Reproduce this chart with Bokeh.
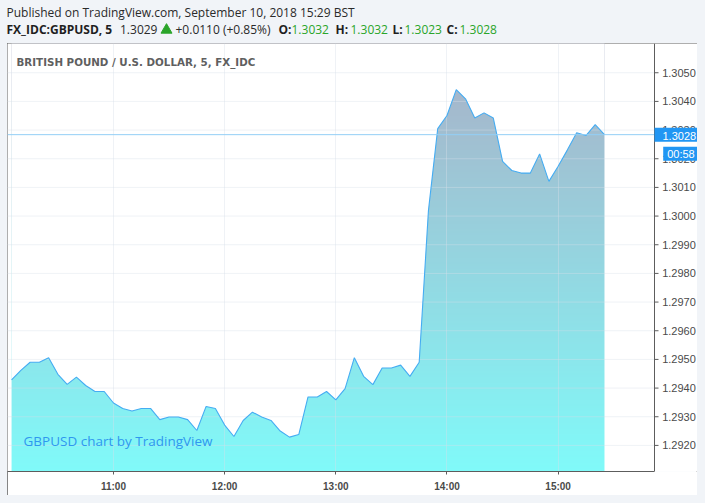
import numpy as np
import pandas as pd
from bokeh.plotting import figure
from bokeh.layouts import column, row
from bokeh.models import (Range1d, FixedTicker, DatetimeTickFormatter, Span, Label, Spacer,
                          GlobalInlineStyleSheet)
from bokeh.core.properties import value
from bokeh.embed import file_html
from bokeh.resources import INLINE

# ---------------- data ----------------
session_date = "2018-09-10"
first_bar = "10:05"
bar_minutes = 5
close = [
    1.29429, 1.29462, 1.29490, 1.29490, 1.29506, 1.29448, 1.29413, 1.29438, 1.29409, 1.29388,
    1.29388, 1.29348, 1.29329, 1.29320, 1.29329, 1.29329, 1.29290, 1.29299, 1.29299, 1.29290,
    1.29252, 1.29336, 1.29329, 1.29271, 1.29231, 1.29287, 1.29316, 1.29299, 1.29287, 1.29250,
    1.29229, 1.29238, 1.29369, 1.29369, 1.29388, 1.29359, 1.29398, 1.29506, 1.29441, 1.29412,
    1.29470, 1.29470, 1.29480, 1.29441, 1.29490, 1.30020, 1.30305, 1.30351, 1.30441, 1.30409,
    1.30342, 1.30360, 1.30342, 1.30191, 1.30159, 1.30150, 1.30150, 1.30217, 1.30121, 1.30174,
    1.30231, 1.30291, 1.30281, 1.30319, 1.30284,
]
hour_labels = ["11:00", "12:00", "13:00", "14:00", "15:00"]
price_labels = ["1.2920", "1.2930", "1.2940", "1.2950", "1.2960", "1.2970", "1.2980",
                "1.2990", "1.3000", "1.3010", "1.3020", "1.3030", "1.3040", "1.3050"]
published = "Published on TradingView.com, September 10, 2018 15:29 BST"
header_symbol = "FX_IDC:GBPUSD, 5"
header_last = "1.3029"
header_change = "+0.0110 (+0.85%)"
ohlc_keys = ["O:", "H:", "L:", "C:"]
ohlc_values = ["1.3032", "1.3032", "1.3023", "1.3028"]
chart_title = "BRITISH POUND / U.S. DOLLAR, 5, FX_IDC"
watermark = "GBPUSD chart by TradingView"
countdown = "00:58"

# ---------------- derived ----------------
times = pd.date_range(start=f"{session_date} {first_bar}", periods=len(close),
                      freq=f"{bar_minutes}min")
t_ms = np.asarray(times.astype("int64") // 10**6, dtype=float)
close_arr = np.asarray(close)
hour_ticks = [pd.Timestamp(f"{session_date} {h}").value // 10**6 for h in hour_labels]
price_ticks = [float(s) for s in price_labels]

# ---------------- layout constants ----------------
BG = "#f1f4f8"
DARK = "#5d5d5d"
HEAD_W, HEAD_H = 697, 43
LEFT_GAP = 7
CHART_W, CHART_H = 690, 452
BOTTOM = 24
PLOT_W = 647                      # pixels from frame left to the price-scale line
FONT = value("Open Sans")
AX_FONT = "Liberation Sans"

view_x0 = pd.Timestamp(f"{session_date} 10:02:48").value // 10**6
axis_x = pd.Timestamp(f"{session_date} 15:52:00").value // 10**6
view_x1 = view_x0 + (axis_x - view_x0) * CHART_W / PLOT_W
view_y0, view_y1 = 1.29109, 1.30602

# ---------------- header ----------------
head = figure(width=HEAD_W, height=HEAD_H, x_range=Range1d(0, HEAD_W),
              y_range=Range1d(HEAD_H, 0), output_backend="svg", toolbar_location=None,
              min_border=0, x_axis_location=None, y_axis_location=None,
              outline_line_color=None, background_fill_color=BG, border_fill_color=BG)
head.grid.visible = False

L1, L2 = 12, 29
head.text(x=[6], y=[L1], text=[published], text_font=FONT, text_font_size="12px",
          text_color="#2a2a2a", text_baseline="middle")
head.text(x=[6, 278, 335, 392, 446], y=[L2] * 5, text=[header_symbol] + ohlc_keys,
          text_font=FONT, text_font_size="12px", text_font_style="bold",
          text_color="#1f1f1f", text_baseline="middle")
head.text(x=[119.5, 175], y=[L2] * 2, text=[header_last, header_change], text_font=FONT,
          text_font_size="12px", text_color="#2a2a2a", text_baseline="middle")
head.text(x=[291, 350, 404, 459], y=[L2] * 4, text=ohlc_values, text_font=FONT,
          text_font_size="12px", text_color="#2aa52a", text_baseline="middle")
head.scatter(x=[166], y=[29.5], marker="triangle", size=11, fill_color="#2aa52a",
             line_color="#2aa52a")

# ---------------- chart ----------------
p = figure(width=CHART_W, height=CHART_H, x_axis_type="datetime", y_axis_location=None,
           x_range=Range1d(view_x0, view_x1), y_range=Range1d(view_y0, view_y1),
           output_backend="svg", toolbar_location=None,
           min_border_left=0, min_border_top=0, min_border_right=0, min_border_bottom=BOTTOM,
           background_fill_color="white", border_fill_color="white",
           outline_line_color=None)
p.styles = {"outline": f"1px solid {DARK}", "outline-offset": "-1px"}

# gradient fill under the line (image + white mask above the line)
rows, cols = 430, 600
frac = np.linspace(0.0, 1.0, rows)[:, None]
bot = np.array([128, 250, 249], dtype=float)
top = np.array([170, 175, 198], dtype=float)
img = np.empty((rows, cols), dtype=np.uint32)
v = img.view(dtype=np.uint8).reshape((rows, cols, 4))
for k in range(3):
    v[:, :, k] = np.round(bot[k] + (top[k] - bot[k]) * frac).astype(np.uint8)
v[:, :, 3] = 255
p.image_rgba(image=[img], x=t_ms[0], y=view_y0, dw=t_ms[-1] - t_ms[0],
             dh=view_y1 - view_y0, level="image")
p.varea(x=t_ms, y1=close_arr, y2=view_y1, fill_color="white", level="image")

# grid lines (drawn over the fill, faint)
GRID = "#d8dee8"
p.xgrid.grid_line_color = GRID
p.xgrid.grid_line_alpha = 0.4
p.ygrid.visible = False
p.ray(x=[axis_x] * len(price_ticks), y=price_ticks, length=0, angle=np.pi,
      line_color=GRID, line_alpha=0.4, level="underlay")

p.line(t_ms, close_arr, line_color="#45acf2", line_width=1.1)

# time axis
p.xaxis.ticker = FixedTicker(ticks=hour_ticks)
p.xaxis.formatter = DatetimeTickFormatter(hours="%H:%M", hourmin="%H:%M", minutes="%H:%M",
                                          minsec="%H:%M", seconds="%H:%M", days="%H:%M")
p.xaxis.bounds = (view_x0, axis_x)
p.xaxis.axis_line_color = DARK
p.xaxis.major_tick_line_color = DARK
p.xaxis.major_tick_in = 0
p.xaxis.major_tick_out = 3
p.xaxis.minor_tick_line_color = None
p.xaxis.major_label_standoff = 6
p.xaxis.major_label_text_font = AX_FONT
p.xaxis.major_label_text_font_size = "10px"
p.xaxis.major_label_text_font_style = "bold"
p.xaxis.major_label_text_color = "#4a4a4a"

# price scale on the right
last = close_arr[-1]
p.add_layout(Span(location=last, dimension="width", line_color="#93cff6", line_width=1))
p.add_layout(Span(location=axis_x, dimension="height", line_color=DARK, line_width=1))
p.ray(x=[axis_x] * len(price_ticks), y=price_ticks, length=4, length_units="screen",
      angle=0, line_color=DARK)
p.text(x=[axis_x] * len(price_ticks), y=price_ticks, text=price_labels, x_offset=7.7,
       text_font=value(AX_FONT), text_font_size="11px", text_color="#4a4a4a",
       text_baseline="middle", text_align="left")

p.add_layout(Label(x=axis_x, y=last, x_offset=0, text=f"{last:.4f}", text_font=AX_FONT,
                   text_font_size="11px", text_color="white", text_baseline="middle",
                   text_align="left", background_fill_color="#2196f3",
                   padding=dict(left=8, right=4, top=4, bottom=2)))
p.add_layout(Label(x=axis_x, y=last, x_offset=8.7, y_offset=-19, text=countdown,
                   text_font=AX_FONT, text_font_size="11px", text_color="white",
                   text_baseline="middle", text_align="left",
                   background_fill_color="#2196f3",
                   padding=dict(left=4, right=5, top=1, bottom=1)))

# title and watermark
frame_h = CHART_H - BOTTOM
p.add_layout(Label(x=9, y=frame_h - 18, x_units="screen", y_units="screen", text=chart_title,
                   text_font="DejaVu Sans", text_font_size="10.3px", text_font_style="bold",
                   text_color="#5f5f5f", text_baseline="middle", text_align="left"))
p.add_layout(Label(x=16, y=31, x_units="screen", y_units="screen", text=watermark,
                   text_font="Open Sans", text_font_size="13.5px", text_color="#2f97ef",
                   text_baseline="middle", text_align="left"))

page = column(head, row(Spacer(width=LEFT_GAP, height=CHART_H), p), spacing=0,
              stylesheets=[GlobalInlineStyleSheet(css="html, body { background-color: #f1f4f8; }")])

open("out.html", "w").write(file_html(page, INLINE))
